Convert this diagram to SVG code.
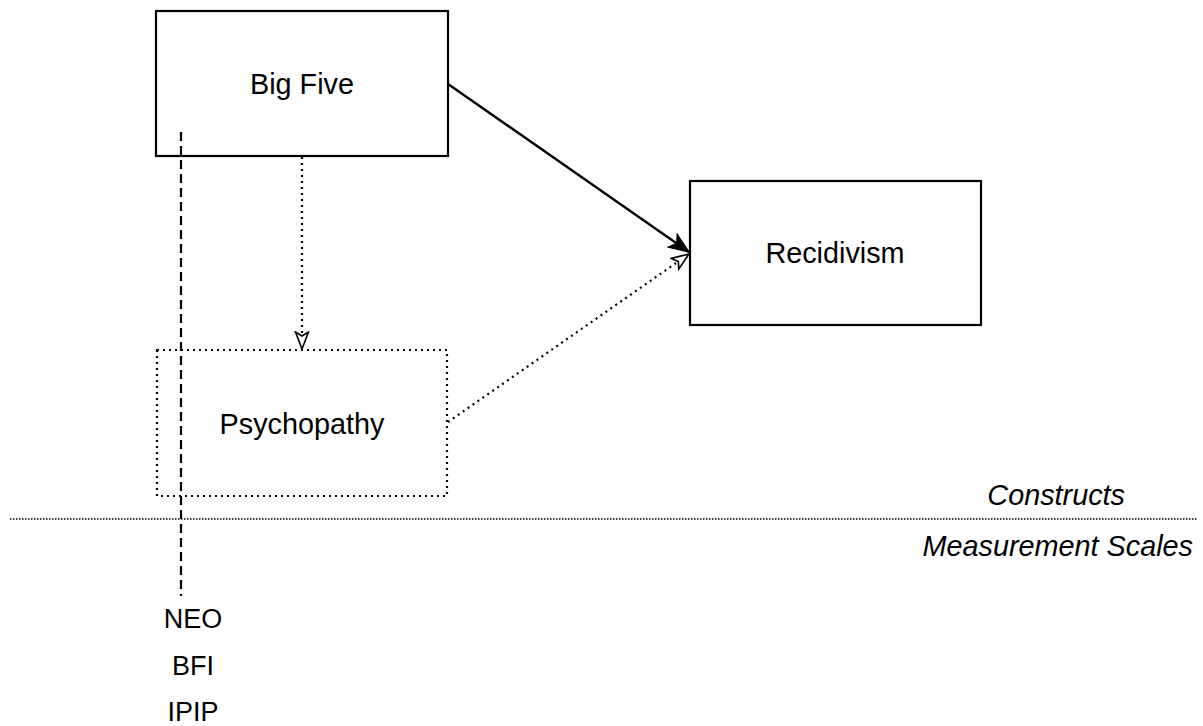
<svg xmlns="http://www.w3.org/2000/svg" width="1203" height="726" viewBox="0 0 1203 726">
  <style>
    .box { fill: #ffffff; stroke: #000000; stroke-width: 2.2; }
    .dotbox { fill: #ffffff; stroke: #000000; stroke-width: 2.2; stroke-dasharray: 2 4; }
    .label { font-family: "Liberation Sans", Arial, sans-serif; font-size: 28.8px; fill: #000000; text-anchor: middle; }
    .scale { font-family: "Liberation Sans", Arial, sans-serif; font-size: 27px; fill: #000000; text-anchor: middle; }
    .region { font-family: "Liberation Sans", Arial, sans-serif; font-size: 28.8px; font-style: italic; fill: #000000; text-anchor: end; }
    .solid { fill: none; stroke: #000000; stroke-width: 2.4; }
    .dotted { fill: none; stroke: #000000; stroke-width: 2.2; stroke-dasharray: 2 4; }
    .dashed { fill: none; stroke: #000000; stroke-width: 2.2; stroke-dasharray: 9 5; }
    .divider { fill: none; stroke: #000000; stroke-width: 1.6; stroke-dasharray: 1.5 1.5; }
  </style>
  <defs>
    <marker id="arrowFilled" viewBox="0 0 22 18" refX="21" refY="9" markerWidth="22" markerHeight="18" markerUnits="userSpaceOnUse" orient="auto">
      <path d="M1,1 L21,9 L1,17 L6,9 Z" fill="#000000" stroke="#000000" stroke-width="1.2" stroke-linejoin="miter"/>
    </marker>
    <marker id="arrowOpen" viewBox="0 0 20 16" refX="18.5" refY="8" markerWidth="20" markerHeight="16" markerUnits="userSpaceOnUse" orient="auto">
      <path d="M1.5,1.5 L18.5,8 L1.5,14.5 L5.5,8 Z" fill="#ffffff" stroke="#000000" stroke-width="1.6"/>
    </marker>
  </defs>

  <!-- section divider between constructs and scales -->
  <line class="divider" x1="10" y1="519" x2="1197" y2="519"/>
  <text class="region" x="1125" y="505">Constructs</text>
  <text class="region" x="1193" y="556">Measurement Scales</text>

  <g id="big-five">
    <rect class="box" x="156" y="11" width="292" height="145"/>
    <text class="label" x="302" y="94">Big Five</text>
  </g>

  <g id="psychopathy">
    <rect class="dotbox" x="157" y="350" width="290" height="146"/>
    <text class="label" x="302" y="434">Psychopathy</text>
  </g>

  <g id="recidivism">
    <rect class="box" x="690" y="181" width="291" height="144"/>
    <text class="label" x="835" y="263">Recidivism</text>
  </g>

  <g id="scales">
    <text class="scale" x="193" y="628">NEO</text>
    <text class="scale" x="193" y="675">BFI</text>
    <text class="scale" x="193" y="721">IPIP</text>
  </g>

  <g id="connectors">
    <line class="solid" x1="448" y1="84" x2="689" y2="252" marker-end="url(#arrowFilled)"/>
    <line class="dotted" x1="448" y1="422" x2="689" y2="254" marker-end="url(#arrowOpen)"/>
    <line class="dotted" x1="302" y1="157" x2="302" y2="349" marker-end="url(#arrowOpen)"/>
    <line class="dashed" x1="181" y1="132" x2="181" y2="596"/>
  </g>
</svg>
